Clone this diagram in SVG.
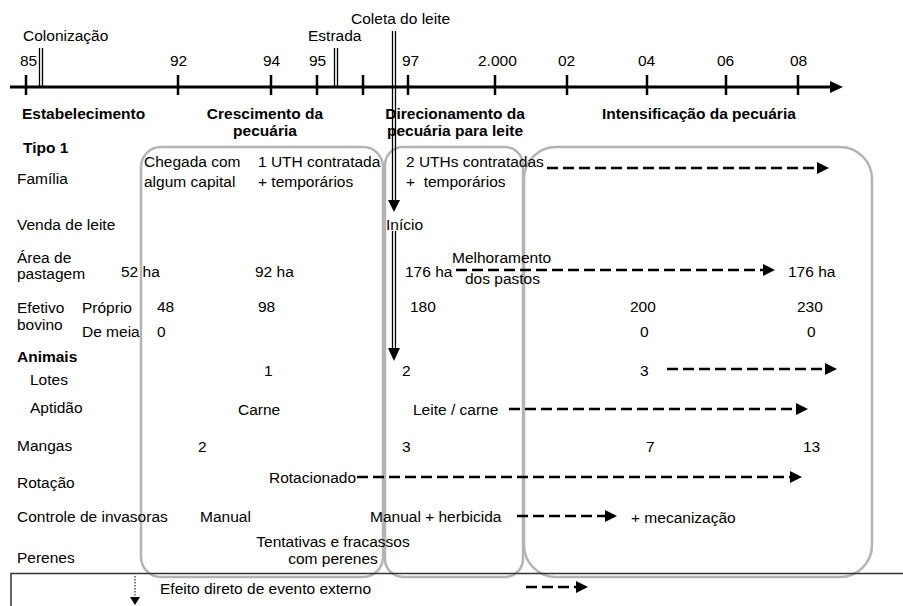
<svg xmlns="http://www.w3.org/2000/svg" width="903" height="606" viewBox="0 0 903 606">
<style>
text{font-family:"Liberation Sans",Arial,sans-serif;font-size:15.5px;fill:#000}
.b{font-weight:bold}
.m{text-anchor:middle}
.box{fill:none;stroke:#b4b4b4;stroke-width:2.5}
.dash{fill:none;stroke:#000;stroke-width:2.5;stroke-dasharray:11 5}
.tick{stroke:#000;stroke-width:2.5}
.dbl{stroke:#000;stroke-width:1.3}
</style>
<defs>
<marker id="ah" viewBox="0 0 12 12" refX="1" refY="6" markerWidth="12" markerHeight="12" markerUnits="userSpaceOnUse" orient="auto"><path d="M0,0 L12,6 L0,12 z"/></marker>
</defs>
<rect width="903" height="606" fill="#fff"/>

<g id="phases">
<rect id="box1" class="box" x="141" y="147" width="242" height="430" rx="20"/>
<rect id="box2" class="box" x="385" y="147" width="138" height="430" rx="18"/>
<rect id="box3" class="box" x="524" y="147" width="348" height="430" rx="32"/>
</g>

<g id="legend-frame">
<path d="M11,606 V573.5 H903" fill="none" stroke="#333" stroke-width="1.5"/>
</g>

<g id="timeline">
<line x1="10" y1="87" x2="832" y2="87" stroke="#000" stroke-width="3"/>
<path d="M830,81 L843,87 L830,93 z"/>
<line class="tick" x1="26" y1="75" x2="26" y2="95"/>
<line class="tick" x1="178" y1="75" x2="178" y2="95"/>
<line class="tick" x1="271" y1="75" x2="271" y2="95"/>
<line class="tick" x1="317" y1="75" x2="317" y2="95"/>
<line class="tick" x1="363" y1="75" x2="363" y2="95"/>
<line class="tick" x1="408" y1="75" x2="408" y2="95"/>
<line class="tick" x1="495" y1="75" x2="495" y2="95"/>
<line class="tick" x1="567" y1="75" x2="567" y2="95"/>
<line class="tick" x1="647" y1="75" x2="647" y2="95"/>
<line class="tick" x1="726" y1="75" x2="726" y2="95"/>
<line class="tick" x1="798" y1="75" x2="798" y2="95"/>
<text x="20" y="66">85</text>
<text x="170" y="66">92</text>
<text x="263" y="66">94</text>
<text x="309" y="66">95</text>
<text x="402" y="66">97</text>
<text x="478" y="66">2.000</text>
<text x="558" y="66">02</text>
<text x="638" y="66">04</text>
<text x="717" y="66">06</text>
<text x="790" y="66">08</text>
</g>

<g id="events">
<g id="ev-colonizacao">
<line class="dbl" x1="39.5" y1="48" x2="39.5" y2="88"/>
<line class="dbl" x1="42.5" y1="48" x2="42.5" y2="88"/>
<text x="23" y="41">Colonização</text>
</g>
<g id="ev-estrada">
<line class="dbl" x1="334.5" y1="48" x2="334.5" y2="88"/>
<line class="dbl" x1="337.5" y1="48" x2="337.5" y2="88"/>
<text x="308" y="41">Estrada</text>
</g>
<g id="ev-coleta">
<text x="351" y="24">Coleta do leite</text>
<line class="dbl" x1="392.5" y1="31" x2="392.5" y2="202"/>
<line class="dbl" x1="395.5" y1="31" x2="395.5" y2="202"/>
<path d="M388,200 L394,212 L400,200 z"/>
<line class="dbl" x1="392.5" y1="231" x2="392.5" y2="350"/>
<line class="dbl" x1="395.5" y1="231" x2="395.5" y2="350"/>
<path d="M388,348 L394,361 L400,348 z"/>
</g>
</g>

<g id="phase-titles">
<text class="b" x="22" y="119">Estabelecimento</text>
<text class="b m" x="265" y="119">Crescimento da</text>
<text class="b m" x="265" y="136">pecuária</text>
<text class="b m" x="455" y="119">Direcionamento da</text>
<text class="b m" x="455" y="136">pecuária para leite</text>
<text class="b" x="602" y="119">Intensificação da pecuária</text>
</g>

<g id="row-labels">
<text class="b" x="23" y="153">Tipo 1</text>
<text x="17" y="184">Família</text>
<text x="17" y="230">Venda de leite</text>
<text x="17" y="263">Área de</text>
<text x="17" y="279">pastagem</text>
<text x="17" y="313">Efetivo</text>
<text x="17" y="330">bovino</text>
<text x="82" y="313">Próprio</text>
<text x="82" y="337">De meia</text>
<text class="b" x="17" y="362">Animais</text>
<text x="30" y="385">Lotes</text>
<text x="30" y="413">Aptidão</text>
<text x="17" y="451">Mangas</text>
<text x="17" y="488">Rotação</text>
<text x="17" y="522">Controle de invasoras</text>
<text x="17" y="563">Perenes</text>
</g>

<g id="values">
<text x="144" y="167">Chegada com</text>
<text x="144" y="187">algum capital</text>
<text x="258" y="167">1 UTH contratada</text>
<text x="258" y="187">+ temporários</text>
<text x="406" y="167">2 UTHs contratadas</text>
<text x="406" y="187" xml:space="preserve">+  temporários</text>
<text x="386" y="230">Início</text>
<text x="121" y="277">52 ha</text>
<text x="255" y="277">92 ha</text>
<text x="405" y="277">176 ha</text>
<text x="452" y="263">Melhoramento</text>
<text x="465" y="284">dos pastos</text>
<text x="788" y="277">176 ha</text>
<text x="157" y="312">48</text>
<text x="258" y="312">98</text>
<text x="410" y="312">180</text>
<text x="630" y="312">200</text>
<text x="797" y="312">230</text>
<text x="157" y="337">0</text>
<text x="640" y="337">0</text>
<text x="807" y="337">0</text>
<text x="264" y="376">1</text>
<text x="402" y="376">2</text>
<text x="640" y="376">3</text>
<text x="238" y="415">Carne</text>
<text x="413" y="415">Leite / carne</text>
<text x="198" y="452">2</text>
<text x="402" y="452">3</text>
<text x="646" y="452">7</text>
<text x="803" y="452">13</text>
<text x="269" y="483">Rotacionado</text>
<text x="200" y="522">Manual</text>
<text x="370" y="522">Manual + herbicida</text>
<text x="631" y="523">+ mecanização</text>
<text class="m" x="333" y="547">Tentativas e fracassos</text>
<text class="m" x="333" y="564">com perenes</text>
</g>

<g id="connectors">
<line class="dash" x1="547" y1="168" x2="818" y2="168" marker-end="url(#ah)"/>
<line class="dash" x1="456" y1="270" x2="764" y2="270" marker-end="url(#ah)"/>
<line class="dash" x1="667" y1="369" x2="826" y2="369" marker-end="url(#ah)"/>
<line class="dash" x1="509" y1="409" x2="797" y2="409" marker-end="url(#ah)"/>
<line class="dash" x1="357" y1="477" x2="791" y2="477" marker-end="url(#ah)"/>
<line class="dash" x1="517" y1="516" x2="606" y2="516" marker-end="url(#ah)"/>
</g>

<g id="legend">
<line x1="135" y1="576" x2="135" y2="597" stroke="#000" stroke-width="1" stroke-dasharray="1.5 1.5"/>
<path d="M130,597 L135,605 L140,597 z"/>
<text x="160" y="594">Efeito direto de evento externo</text>
<line class="dash" x1="526" y1="587" x2="577" y2="587" marker-end="url(#ah)"/>
</g>
</svg>
